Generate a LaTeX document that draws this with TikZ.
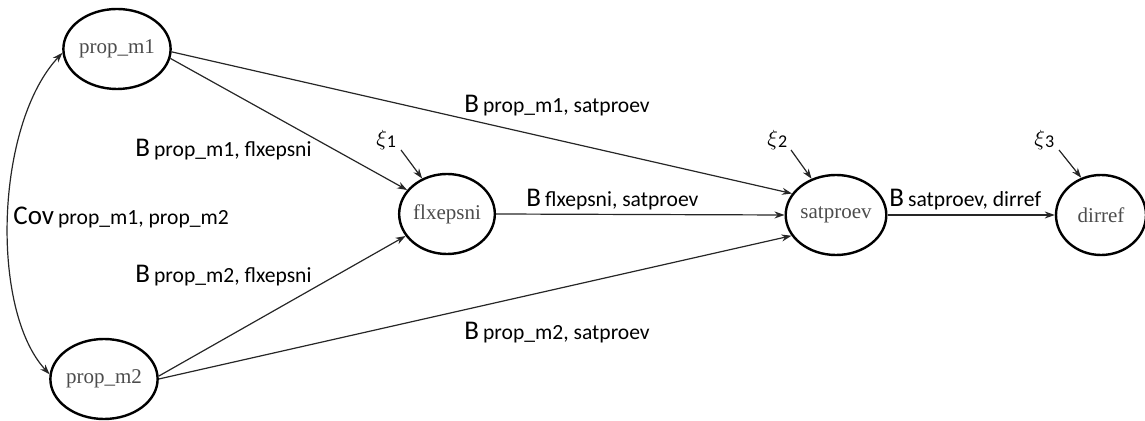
\documentclass[tikz,border=0pt]{standalone}
\usepackage{fontspec}
\setmainfont{Liberation Serif}
\newfontfamily\labelfont{Carlito}
\usetikzlibrary{shapes.geometric,arrows.meta}

% coefficient label: large letter followed by smaller subscript text on the same baseline
\newcommand\coefl[2]{{\fontsize{13.5}{15}\selectfont #1}\hspace{2pt}{\fontsize{10.8}{13}\selectfont #2}}
% error term label
\newcommand\errl[1]{{\fontsize{11}{12}\selectfont$\xi$}{\labelfont\fontsize{9}{10}\selectfont\raisebox{-1pt}{#1}}}

\begin{document}
\begin{tikzpicture}[x=0.5pt,y=-0.5pt,
  var/.style={ellipse,draw=black,line width=1.2pt,minimum width=45pt,minimum height=40pt,
    inner sep=0pt,font=\fontsize{10.5}{12}\selectfont,text=black!70},
  pathedge/.style={draw=black!85,line width=0.6pt,-{Stealth[length=5pt,width=3.5pt]}},
  coef/.style={anchor=base west,inner sep=0pt,font=\labelfont},
  err/.style={anchor=base west,inner sep=0pt}
]
\useasboundingbox (0,0) rectangle (1145,421);

% latent variables
\node[var] (prop1) at (117,49)  {prop\_m1};
\node[var] (prop2) at (104,379) {prop\_m2};
\node[var] (flx)   at (447,214) {flxepsni};
\node[var] (sat)   at (836,215) {satproev};
\node[var] (dir)   at (1101,215) {dirref};

% error terms
\node[err] (xi1) at (376,146)  {\errl{1}};
\node[err] (xi2) at (767,146)  {\errl{2}};
\node[err] (xi3) at (1034,146) {\errl{3}};
\coordinate (xi1tail) at (401,150);
\coordinate (xi2tail) at (791,150);
\coordinate (xi3tail) at (1059,150);

% structural paths
\draw[pathedge] (prop1.-10) -- (flx.149);
\draw[pathedge] (prop1.-3)  -- (sat.154);
\draw[pathedge] (prop2.3)   -- (flx.208);
\draw[pathedge] (prop2.0)   -- (sat.205);
\draw[pathedge] (flx.east)  -- (sat.west);
\draw[pathedge] (sat.east)  -- (dir.west);

% disturbances
\draw[pathedge] (xi1tail) -- (flx.125);
\draw[pathedge] (xi2tail) -- (sat.124);
\draw[pathedge] (xi3tail) -- (dir.118);

% covariance between the exogenous variables
\coordinate (covc1) at (-5,125);
\coordinate (covc2) at (-10,310);
\draw[draw=black!85,line width=0.6pt,{Stealth[length=5pt,width=3.5pt]}-{Stealth[length=5pt,width=3.5pt]}]
  (prop1.184) .. controls (covc1) and (covc2) .. (prop2.175);

% path labels
\node[coef] (lcov)  at (13,225)  {\coefl{Cov}{prop\_m1, prop\_m2}};
\node[coef] (l1f)   at (135,157) {\coefl{B}{prop\_m1, flxepsni}};
\node[coef] (l2f)   at (135,283) {\coefl{B}{prop\_m2, flxepsni}};
\node[coef] (l1s)   at (464,113) {\coefl{B}{prop\_m1, satproev}};
\node[coef] (l2s)   at (464,340) {\coefl{B}{prop\_m2, satproev}};
\node[coef] (lfs)   at (526,207) {\coefl{B}{flxepsni, satproev}};
\node[coef] (lsd)   at (889,207) {\coefl{B}{satproev, dirref}};
\end{tikzpicture}
\end{document}
